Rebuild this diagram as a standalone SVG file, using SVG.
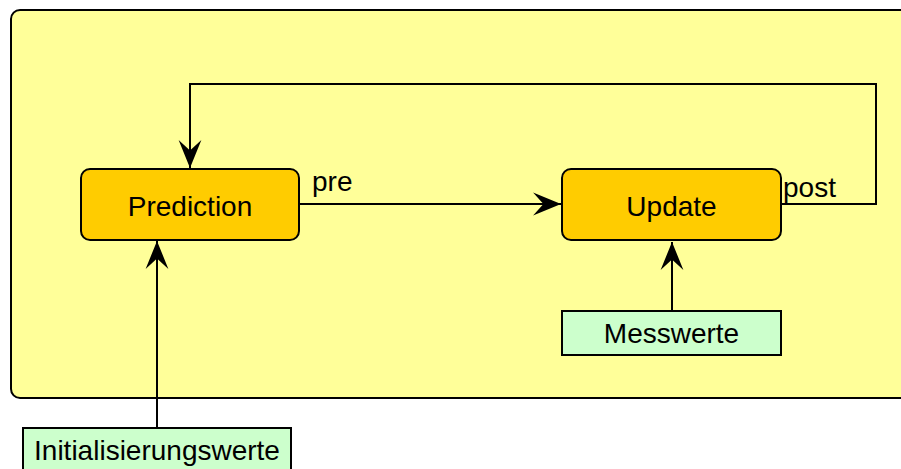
<svg xmlns="http://www.w3.org/2000/svg" width="901" height="469" viewBox="0 0 901 469">
<style>
text{font-family:"Liberation Sans",Arial,sans-serif;font-size:28px;fill:#000}
.proc{fill:#ffcc00;stroke:#000;stroke-width:2}
.io{fill:#ccffcc;stroke:#000;stroke-width:2}
.edge{fill:none;stroke:#000;stroke-width:2}
</style>
<defs>
<marker id="ah" markerUnits="userSpaceOnUse" markerWidth="30" markerHeight="26" viewBox="-28 -12 29 24" refX="0" refY="0" orient="auto">
<path d="M0,0 L-27,-11 L-17,0 L-27,11 Z" fill="#000"/>
</marker>
</defs>
<g id="container">
<rect x="11" y="10" width="905" height="388" rx="9" fill="#ffff99" stroke="#000" stroke-width="2"/>
</g>
<g id="connectors">
<path class="edge" d="M299,204 H561" marker-end="url(#ah)"/>
<path class="edge" d="M781,204 H876 V84 H190 V168" marker-end="url(#ah)"/>
<path class="edge" d="M672,311 V242" marker-end="url(#ah)"/>
<path class="edge" d="M157,428 V241" marker-end="url(#ah)"/>
<text x="312" y="191">pre</text>
<text x="783" y="197">post</text>
</g>
<g id="prediction">
<rect class="proc" x="81" y="169" width="218" height="71" rx="9"/>
<text x="190" y="216" text-anchor="middle">Prediction</text>
</g>
<g id="update">
<rect class="proc" x="562" y="169" width="219" height="71" rx="9"/>
<text x="671.5" y="216" text-anchor="middle">Update</text>
</g>
<g id="messwerte">
<rect class="io" x="562" y="311" width="219" height="44"/>
<text x="671.5" y="343" text-anchor="middle">Messwerte</text>
</g>
<g id="initialisierungswerte">
<rect class="io" x="23" y="428" width="268" height="50"/>
<text x="157" y="460" text-anchor="middle">Initialisierungswerte</text>
</g>
</svg>
